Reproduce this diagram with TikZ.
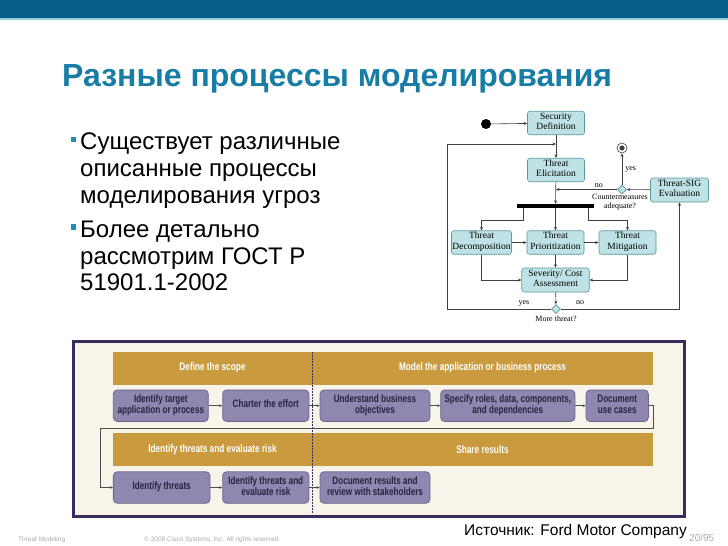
\documentclass[tikz,border=0pt]{standalone}
\usepackage{fontspec}
\setmainfont{Liberation Sans}
\newfontfamily\actfont{Liberation Serif}
\newfontfamily\narrowfont{Liberation Sans}[FakeStretch=0.75]
\usetikzlibrary{arrows.meta,shapes.geometric}
\definecolor{topband}{RGB}{5,94,135}
\definecolor{topline}{RGB}{150,200,222}
\definecolor{titleblue}{RGB}{24,125,166}
\definecolor{bulletblue}{RGB}{30,139,195}
\definecolor{actfill}{RGB}{190,226,229}
\definecolor{actedge}{RGB}{95,150,160}
\definecolor{cream}{RGB}{248,244,234}
\definecolor{frame}{RGB}{58,44,92}
\definecolor{gold}{RGB}{201,154,62}
\definecolor{taskfill}{RGB}{142,135,175}
\definecolor{taskedge}{RGB}{110,102,145}
\definecolor{tasktext}{RGB}{40,35,65}
\definecolor{footgray}{RGB}{170,170,170}

\begin{document}
\begin{tikzpicture}[x=1pt,y=-1pt,>=Stealth,
    act/.style={draw=actedge, fill=actfill, line width=0.6, rounded corners=2.5,
      align=center, inner sep=1, minimum width=57, minimum height=23.5,
      font=\actfont\fontsize{9.5}{10.5}\selectfont,
      execute at begin node=\strut, execute at end node=\strut},
    decision/.style={diamond, draw=actedge, fill=actfill, line width=0.6,
      minimum width=9, minimum height=9, inner sep=0},
    lbl/.style={font=\actfont\fontsize{8}{8.6}\selectfont, inner sep=1, align=center},
    flow/.style={-{Stealth[length=3.5pt,width=3pt]}, line width=0.6, draw=black!75},
    taskbox/.style={draw=taskedge, fill=taskfill, rounded corners=4, line width=0.8,
      align=center, inner sep=1, minimum height=31.5, text=tasktext,
      font=\narrowfont\bfseries\fontsize{10.8}{11}\selectfont,
      execute at begin node=\strut, execute at end node=\strut},
    bandtxt/.style={text=white, font=\narrowfont\bfseries\fontsize{11}{12}\selectfont},
    tasklink/.style={-{Stealth[length=3pt,width=2.6pt]}, line width=0.5, draw=black!70},
    bodytxt/.style={anchor=base west, inner sep=0, font=\fontsize{24}{27}\selectfont},
    foot/.style={anchor=base west, inner sep=0, text=footgray, font=\fontsize{6.5}{7}\selectfont}]
    \useasboundingbox (0,0) rectangle (728,546);
    \fill[white] (0,0) rectangle (728,546);

    % Slide header
    \fill[topband] (0,0) rectangle (728,18);
    \fill[topline] (0,18) rectangle (728,20);
    \node[anchor=base west, inner sep=0, text=titleblue, font=\bfseries\fontsize{32}{35}\selectfont]
      (title) at (62,86) {Разные процессы моделирования};

    % Bullets
    \fill[bulletblue] (70.5,136.5) rectangle (76,142);
    \node[bodytxt] (b1a) at (80,149) {Существует различные};
    \node[bodytxt] (b1b) at (80,176) {описанные процессы};
    \node[bodytxt] (b1c) at (80,203) {моделирования угроз};
    \fill[bulletblue] (70.5,224) rectangle (76,229.5);
    \node[bodytxt] (b2a) at (80,237) {Более детально};
    \node[bodytxt] (b2b) at (80,264) {рассмотрим ГОСТ Р};
    \node[bodytxt] (b2c) at (80,290) {51901.1-2002};

    % Activity diagram
    \node[circle, fill=black, minimum size=10, inner sep=0] (init) at (486,124) {};
    \node[act] (secdef) at (556,123) {Security\\Definition};
    \node[act] (elicit) at (556,170) {Threat\\Elicitation};
    \node[act, minimum width=58, minimum height=24] (tsig) at (679.5,190) {Threat-SIG\\Evaluation};
    \node[decision] (cmq) at (622,189.5) {};
    \node[circle, draw=black!75, line width=0.6, minimum size=10, inner sep=0] (final) at (622,148) {};
    \fill[black!75] (final) circle (2.6);
    \node[lbl, anchor=north] (cmqlbl) at (620,193.5) {Countermeasures\\adequate?};
    \node[fill=black, minimum width=77, minimum height=3.5, inner sep=0] (bar) at (555.5,205.8) {};
    \node[act, minimum width=60] (decomp) at (481.5,242.5) {Threat\\Decomposition};
    \node[act] (prior) at (555.5,242.5) {Threat\\Prioritization};
    \node[act] (mitig) at (627.5,242.5) {Threat\\Mitigation};
    \node[act, minimum width=67.5, minimum height=24] (sever) at (555.5,280) {Severity/ Cost\\Assessment};
    \node[decision] (mtq) at (556,309) {};
    \node[lbl, anchor=north] (mtqlbl) at (556,315) {More threat?};
    \node[lbl] (yeslbl) at (524,303) {yes};
    \node[lbl] (nolbl) at (580,303) {no};
    \coordinate (loopin) at (556,144);
    \coordinate (join) at (556,189.5);
    \coordinate (railL) at (447,309);
    \coordinate (barL) at (523,207.5);
    \coordinate (barR) at (588.5,207.5);

    \draw[flow] (init) -- (secdef);
    \draw[flow] (secdef) -- (elicit);
    \draw[flow] (elicit) -- (bar);
    \draw[flow] (tsig) -- (cmq);
    \draw[flow] (cmq) -- (final) node[lbl, midway, right=2] (yes2) {yes};
    \draw[flow] (cmq) -- (join) node[lbl, pos=0.3, above=1] (no2) {no};
    \draw[flow] (barL) -- ++(0,12.5) -| (decomp);
    \draw[flow] (bar) -- (prior);
    \draw[flow] (barR) -- ++(0,12.5) -| (mitig);
    \draw[flow] (decomp) -- (prior);
    \draw[flow] (prior) -- (mitig);
    \draw[flow] (prior) -- (sever);
    \draw[flow] (decomp) |- (sever);
    \draw[flow] (mitig) |- (sever);
    \draw[flow] (sever) -- (mtq);
    \draw[flow] (mtq) -- (railL) |- (loopin);
    \draw[flow] (mtq) -| (tsig);

    % Ford process
    \draw[frame, line width=3, fill=cream] (73.5,341.5) rectangle (684.5,516);
    \fill[gold] (113,352) rectangle (653,384.5);
    \fill[gold] (113,433) rectangle (653,466);
    \draw[frame, line width=0.8, dash pattern=on 2pt off 1pt] (312,352) -- (312,514);
    \node[bandtxt] (scope) at (212.5,368) {Define the scope};
    \node[bandtxt] (model) at (482.5,368) {Model the application or business process};
    \node[bandtxt] (risk) at (212.5,449.5) {Identify threats and evaluate risk};
    \node[bandtxt] (share) at (482.5,449.5) {Share results};

    \node[taskbox, minimum width=95] (tgt) at (160.8,405.7) {Identify target\\application or process};
    \node[taskbox, minimum width=86.3] (charter) at (265.8,405.7) {Charter the effort};
    \node[taskbox, minimum width=110] (underst) at (375,405.7) {Understand business\\objectives};
    \node[taskbox, minimum width=134.3] (specify) at (507.8,405.7) {Specify roles, data, components,\\and dependencies};
    \node[taskbox, minimum width=62.3] (usecase) at (617.2,405.7) {Document\\use cases};
    \node[taskbox, minimum width=96.7] (idthr) at (161.7,487.5) {Identify threats};
    \node[taskbox, minimum width=86.3] (evalrisk) at (265.8,487.5) {Identify threats and\\evaluate risk};
    \node[taskbox, minimum width=110] (docres) at (375,487.5) {Document results and\\review with stakeholders};
    \coordinate (loopR) at (653,428);
    \coordinate (loopL) at (100,428);

    \draw[tasklink] (tgt) -- (charter);
    \draw[tasklink] (charter) -- (underst);
    \draw[tasklink] (underst) -- (specify);
    \draw[tasklink] (specify) -- (usecase);
    \draw[tasklink] (usecase) -| (loopR) -- (loopL) |- (idthr);
    \draw[tasklink] (idthr) -- (evalrisk);
    \draw[tasklink] (evalrisk) -- (docres);

    % Footer
    \node[foot] (fleft) at (18,541) {Threat Modeling};
    \node[foot] (fcopy) at (144,541) {© 2008 Cisco Systems, Inc. All rights reserved.};
    \node[foot, font=\fontsize{10}{11}\selectfont] (fpage) at (689,541) {20/95};
    \node[anchor=base west, inner sep=0, font=\fontsize{15.5}{17}\selectfont] (source) at (464,535) {Источник: Ford Motor Company};
\end{tikzpicture}
\end{document}
